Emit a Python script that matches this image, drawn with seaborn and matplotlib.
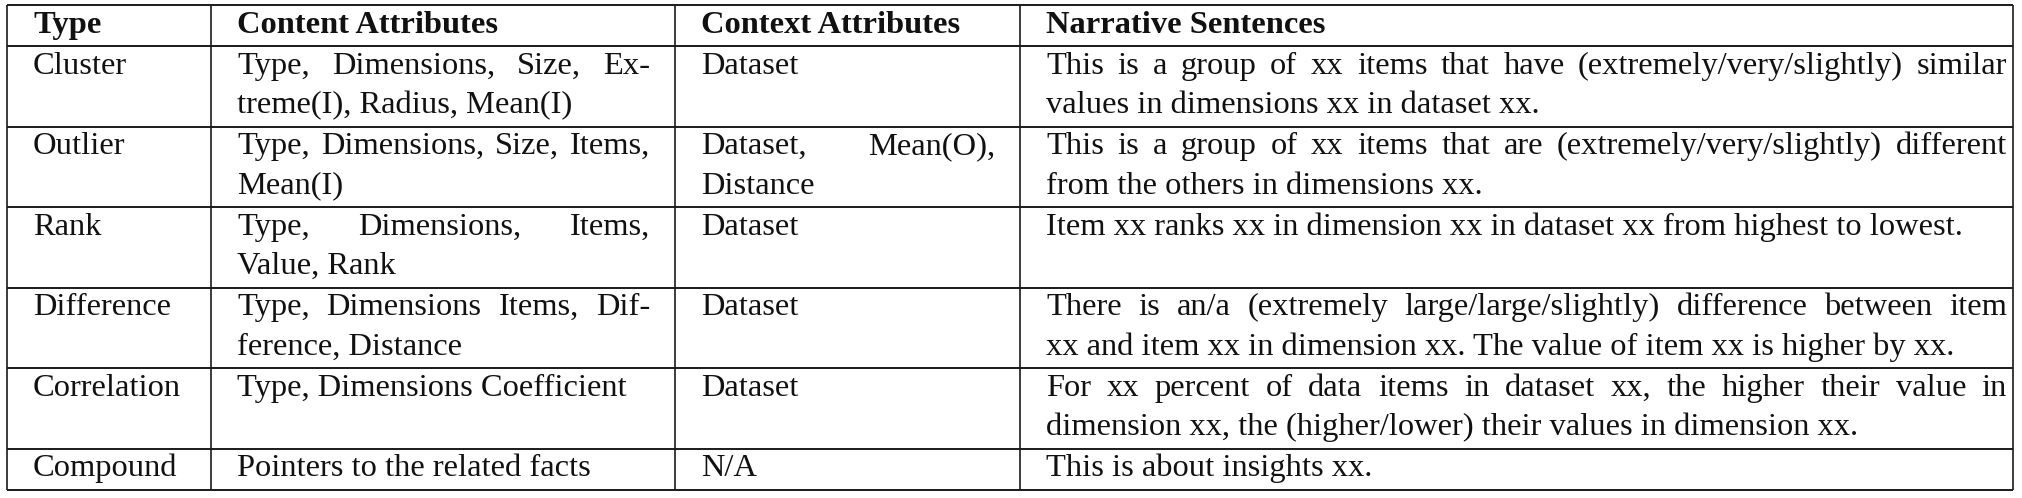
import matplotlib
matplotlib.use('Agg')
import seaborn as sns
import matplotlib.pyplot as plt

sns.set_theme(style='white')
plt.rcParams['font.family'] = ['Liberation Serif', 'DejaVu Serif']

# table content, one list of lines per cell (line breaks as in the original)
headers = ['Type', 'Content Attributes', 'Context Attributes', 'Narrative Sentences']
types = ['Cluster', 'Outlier', 'Rank', 'Difference', 'Correlation', 'Compound']
content_attrs = [
    ['Type, Dimensions, Size, Ex-', 'treme(I), Radius, Mean(I)'],
    ['Type, Dimensions, Size, Items,', 'Mean(I)'],
    ['Type, Dimensions, Items,', 'Value, Rank'],
    ['Type, Dimensions Items, Dif-', 'ference, Distance'],
    ['Type, Dimensions Coefficient'],
    ['Pointers to the related facts'],
]
context_attrs = [
    ['Dataset'],
    ['Dataset, Mean(O),', 'Distance'],
    ['Dataset'],
    ['Dataset'],
    ['Dataset'],
    ['N/A'],
]
narratives = [
    ['This is a group of xx items that have (extremely/very/slightly) similar',
     'values in dimensions xx in dataset xx.'],
    ['This is a group of xx items that are (extremely/very/slightly) different',
     'from the others in dimensions xx.'],
    ['Item xx ranks xx in dimension xx in dataset xx from highest to lowest.'],
    ['There is an/a (extremely large/large/slightly) difference between item',
     'xx and item xx in dimension xx. The value of item xx is higher by xx.'],
    ['For xx percent of data items in dataset xx, the higher their value in',
     'dimension xx, the (higher/lower) their values in dimension xx.'],
    ['This is about insights xx.'],
]

W, H = 2022, 498
fig = plt.figure(figsize=(W / 100, H / 100), dpi=100)
ax = fig.add_axes([0, 0, 1, 1])
ax.set_xlim(0, W)
ax.set_ylim(H, 0)
ax.axis('off')

col_x = [7, 211, 675, 1020, 2013]
pad_l = 26
pad_r = [25, 25, 25, 6]
top = 5
lh = 39.5
row_pad = 1.5
base_off = 27.5
fs = 32.5 * 72 / 100
ink = '#111111'

renderer = fig.canvas.get_renderer()


def text_width(s, weight):
    t = ax.text(0, 0, s, fontsize=fs, weight=weight)
    w = t.get_window_extent(renderer).width
    t.remove()
    return w


def draw_cell(lines, col, y, weight='normal'):
    x0 = col_x[col] + pad_l
    x1 = col_x[col + 1] - pad_r[col]
    for i, line in enumerate(lines):
        yb = y + base_off + i * lh
        words = line.split(' ')
        if i == len(lines) - 1 or len(words) == 1:
            ax.text(x0, yb, line, fontsize=fs, weight=weight, color=ink, va='baseline')
            continue
        # justified line, like the LaTeX p{} column
        ws = [text_width(w, weight) for w in words]
        gap = max((x1 - x0 - sum(ws)) / (len(words) - 1), 4)
        x = x0
        for w, wd in zip(words, ws):
            ax.text(x, yb, w, fontsize=fs, weight=weight, color=ink, va='baseline')
            x += wd + gap


rows = [[[h] for h in headers]]
for t, c, ctx, n in zip(types, content_attrs, context_attrs, narratives):
    rows.append([[t], c, ctx, n])

y_edges = [top]
for r, cells in enumerate(rows):
    y = y_edges[-1]
    weight = 'bold' if r == 0 else 'normal'
    for col, lines in enumerate(cells):
        draw_cell(lines, col, y, weight)
    n_lines = max(len(c) for c in cells)
    y_edges.append(y + n_lines * lh + row_pad)

ax.hlines(y_edges, col_x[0], col_x[-1], color='#1a1a1a', lw=1.4)
ax.vlines(col_x, y_edges[0], y_edges[-1], color='#1a1a1a', lw=1.2)

fig.savefig('out.png', dpi=100)
